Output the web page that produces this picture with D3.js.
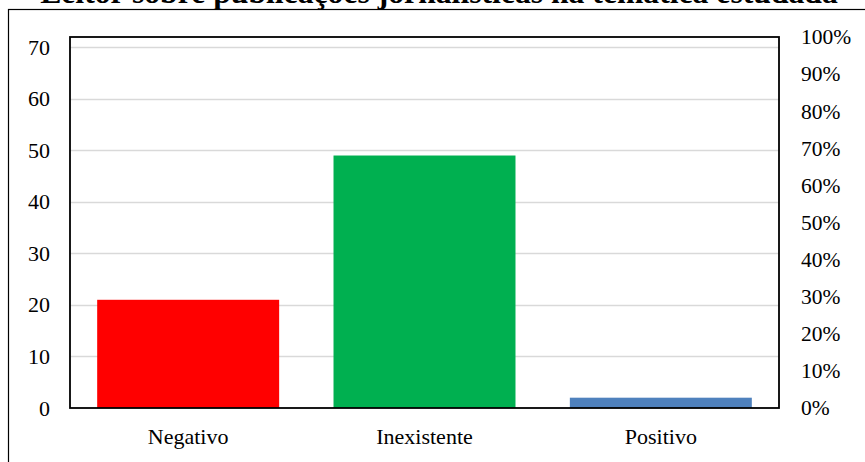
<!DOCTYPE html>
<html>
<head>
<meta charset="utf-8">
<script src="https://cdn.jsdelivr.net/npm/d3@7"></script>
<style>
  html, body { margin: 0; padding: 0; background: #fff; overflow: hidden; }
  svg { display: block; }
  text { font-family: "Liberation Serif", "Times New Roman", serif; fill: #000; }
</style>
</head>
<body>
<svg id="chart" width="865" height="462"></svg>
<script>
// Chart data
const title = "Leitor sobre publicações jornalísticas na temática estudada";
const categories = ["Negativo", "Inexistente", "Positivo"];
const counts = [21, 49, 2];
const colors = ["#ff0000", "#00b050", "#4f81bd"];
const leftTicks = [0, 10, 20, 30, 40, 50, 60, 70];
const rightTicks = [0, 0.1, 0.2, 0.3, 0.4, 0.5, 0.6, 0.7, 0.8, 0.9, 1.0];

const W = 865, H = 462;
const plot = { left: 70, right: 779, top: 37, bottom: 408 };
const total = d3.sum(counts);
const labelFont = "22px";

const svg = d3.select("#chart");

// Outer chart border (continues past the right and bottom edges)
svg.append("rect")
  .attr("x", 8.5).attr("y", 9.5)
  .attr("width", W).attr("height", H)
  .attr("fill", "none").attr("stroke", "#000").attr("stroke-width", 1.2);

// Title
const titleText = svg.append("text")
  .attr("x", 439).attr("y", 3)
  .attr("text-anchor", "middle")
  .style("font-weight", "bold")
  .style("font-size", "26px")
  .text(title);
const tw = titleText.node().getComputedTextLength();
titleText.style("font-size", (26 * 798 / tw) + "px");

// Scales: the count axis tops out at the total, so it lines up with 100%
const x = d3.scaleBand().domain(categories)
  .range([plot.left, plot.right]).paddingInner(0.23).paddingOuter(0.115);
const y = d3.scaleLinear().domain([0, total]).range([plot.bottom, plot.top]);
const yPct = d3.scaleLinear().domain([0, 1]).range([plot.bottom, plot.top]);

// Gridlines
svg.append("g").selectAll("line").data(leftTicks.filter(d => d > 0)).join("line")
  .attr("x1", plot.left).attr("x2", plot.right)
  .attr("y1", d => Math.round(y(d)) + 0.5).attr("y2", d => Math.round(y(d)) + 0.5)
  .attr("stroke", "#d9d9d9").attr("stroke-width", 1.3);

// Bars
svg.append("g").selectAll("rect").data(categories).join("rect")
  .attr("x", d => x(d))
  .attr("width", x.bandwidth())
  .attr("y", (d, i) => y(counts[i]))
  .attr("height", (d, i) => plot.bottom - y(counts[i]))
  .attr("fill", (d, i) => colors[i]);

// Plot frame
svg.append("rect")
  .attr("x", plot.left).attr("y", plot.top)
  .attr("width", plot.right - plot.left).attr("height", plot.bottom - plot.top)
  .attr("fill", "none").attr("stroke", "#000").attr("stroke-width", 1.8);

// Left axis (counts)
const leftAxis = svg.append("g")
  .attr("transform", `translate(${plot.left},0)`)
  .call(d3.axisLeft(y).tickValues(leftTicks).tickSize(0).tickPadding(20).tickFormat(d3.format("d")));
leftAxis.select(".domain").remove();
leftAxis.selectAll("text").style("font-size", labelFont).style("font-family", "Liberation Serif, serif");

// Right axis (percent)
const rightAxis = svg.append("g")
  .attr("transform", `translate(${plot.right},0)`)
  .call(d3.axisRight(yPct).tickValues(rightTicks).tickSize(0).tickPadding(22).tickFormat(d3.format(".0%")));
rightAxis.select(".domain").remove();
rightAxis.selectAll("text").style("font-size", "21.5px").style("font-family", "Liberation Serif, serif");

// Category axis
const bottomAxis = svg.append("g")
  .attr("transform", `translate(0,${plot.bottom})`)
  .call(d3.axisBottom(x).tickSize(0).tickPadding(20));
bottomAxis.select(".domain").remove();
bottomAxis.selectAll("text").style("font-size", labelFont).style("font-family", "Liberation Serif, serif");
</script>
</body>
</html>
